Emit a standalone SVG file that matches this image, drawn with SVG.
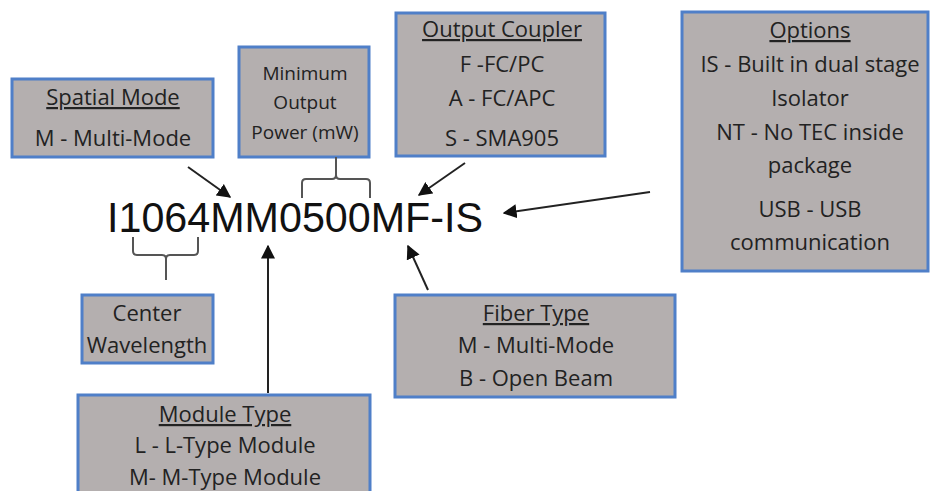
<svg xmlns="http://www.w3.org/2000/svg" width="930" height="491" viewBox="0 0 930 491">
<defs>
<style>
.box{fill:#b4afaf;stroke:#4f7fc8;stroke-width:3}
.t{font-family:"Open Sans","DejaVu Sans",sans-serif;font-size:22px;fill:#222;text-anchor:middle}
.s{font-size:19px}
.h{text-decoration:underline}
.main{font-family:"Liberation Sans",Arial,sans-serif;font-size:42px;fill:#111}
.con{fill:none;stroke:#222;stroke-width:2}
.br{fill:none;stroke:#555;stroke-width:2}
</style>
<marker id="ah" viewBox="0 0 10 10" refX="9" refY="5" markerWidth="7" markerHeight="7" orient="auto" markerUnits="strokeWidth">
<path d="M0,0 L10,5 L0,10 z" fill="#111"/>
</marker>
</defs>
<rect width="930" height="491" fill="#fff"/>

<g id="spatial-mode">
<rect class="box" x="12" y="79" width="201" height="78"/>
<text class="t h" x="113" y="105">Spatial Mode</text>
<text class="t" x="113" y="146">M - Multi-Mode</text>
</g>

<g id="min-output-power">
<rect class="box" x="239" y="47" width="130" height="110"/>
<text class="t s" x="305" y="80">Minimum</text>
<text class="t s" x="305" y="109">Output</text>
<text class="t s" x="305" y="139">Power (mW)</text>
</g>

<g id="output-coupler">
<rect class="box" x="396" y="13" width="209" height="143"/>
<text class="t h" x="502" y="37">Output Coupler</text>
<text class="t" x="502" y="72">F -FC/PC</text>
<text class="t" x="502" y="106">A - FC/APC</text>
<text class="t" x="502" y="146">S - SMA905</text>
</g>

<g id="options">
<rect class="box" x="682" y="12" width="246" height="259"/>
<text class="t h" x="810" y="38">Options</text>
<text class="t" x="810" y="72">IS - Built in dual stage</text>
<text class="t" x="810" y="106">Isolator</text>
<text class="t" x="810" y="140">NT - No TEC inside</text>
<text class="t" x="810" y="173">package</text>
<text class="t" x="810" y="217">USB - USB</text>
<text class="t" x="810" y="250">communication</text>
</g>

<g id="part-number">
<text class="main" x="107" y="232" textLength="376" lengthAdjust="spacingAndGlyphs">I1064MM0500MF-IS</text>
</g>

<g id="center-wavelength">
<rect class="box" x="82" y="295" width="131" height="68"/>
<text class="t" x="147" y="321">Center</text>
<text class="t" x="147" y="353">Wavelength</text>
</g>

<g id="fiber-type">
<rect class="box" x="395" y="295" width="280" height="102"/>
<text class="t h" x="536" y="321">Fiber Type</text>
<text class="t" x="536" y="353">M - Multi-Mode</text>
<text class="t" x="536" y="386">B - Open Beam</text>
</g>

<g id="module-type">
<rect class="box" x="78" y="395" width="292" height="110"/>
<text class="t h" x="225" y="422">Module Type</text>
<text class="t" x="225" y="453">L - L-Type Module</text>
<text class="t" x="225" y="485">M- M-Type Module</text>
</g>

<g id="connectors">
<path class="br" d="M302,198 L302,183 Q302,179 306,179 L332,179 Q336,179 336,175 L336,157 M336,175 Q336,179 340,179 L366,179 Q370,179 370,183 L370,198"/>
<path class="br" d="M133,237 L133,251 Q133,255 137,255 L162,255 Q166,255 166,259 L166,280 M166,259 Q166,255 170,255 L194,255 Q198,255 198,251 L198,237"/>
<line class="con" x1="188" y1="167" x2="230" y2="197" marker-end="url(#ah)"/>
<line class="con" x1="465" y1="163" x2="419" y2="195" marker-end="url(#ah)"/>
<line class="con" x1="650" y1="192" x2="504" y2="213" marker-end="url(#ah)"/>
<line class="con" x1="268" y1="393" x2="268" y2="246" marker-end="url(#ah)"/>
<line class="con" x1="428" y1="290" x2="408" y2="246" marker-end="url(#ah)"/>
</g>
</svg>
